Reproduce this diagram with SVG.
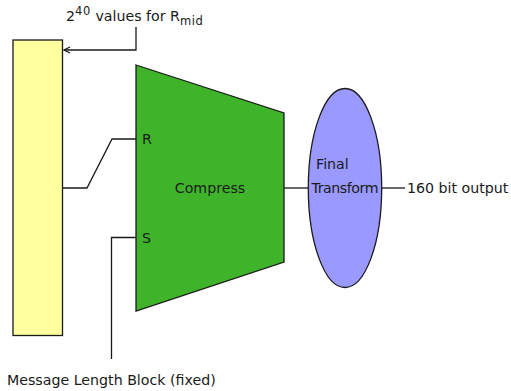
<svg xmlns="http://www.w3.org/2000/svg" width="511" height="391" viewBox="0 0 511 391">
<defs>
<style>
text{font-family:"DejaVu Sans",sans-serif;font-size:14.2px;fill:#1a1a1a}
.s{font-size:11.5px;letter-spacing:0.6px}
.ln{fill:none;stroke:#1a1a1a;stroke-width:1.3}
.shape{stroke:#1a1a1a;stroke-width:1.3}
</style>
<marker id="ah" markerWidth="8" markerHeight="8" refX="7" refY="4" orient="auto" markerUnits="userSpaceOnUse">
<path d="M1,1 L7,4 L1,7" fill="none" stroke="#1a1a1a" stroke-width="1.3"/>
</marker>
</defs>
<g id="connectors">
<path class="ln" d="M136,27 V50 H64" marker-end="url(#ah)"/>
<path class="ln" d="M62.5,188 H87 L112,139 H136"/>
<path class="ln" d="M111.5,359 V237.5 H136"/>
<path class="ln" d="M284,188 H308.5"/>
<path class="ln" d="M382,188 H405"/>
</g>
<g id="block">
<rect class="shape" x="13" y="40" width="49.5" height="295.5" fill="#ffff9f"/>
</g>
<g id="compress">
<polygon class="shape" points="136,65 284,113 284,262 136,311" fill="#3fb42a"/>
<text x="210" y="192.5" text-anchor="middle">Compress</text>
<text x="142" y="144">R</text>
<text x="142" y="243">S</text>
</g>
<g id="final">
<ellipse class="shape" cx="345" cy="188" rx="36.7" ry="99.5" fill="#9999ff"/>
<text x="316" y="169">Final</text>
<text x="311.5" y="193" textLength="67">Transform</text>
</g>
<g id="labels">
<text x="66" y="21">2<tspan class="s" dy="-6">40</tspan><tspan dy="6"> values for R</tspan><tspan class="s" dy="4">mid</tspan></text>
<text x="407" y="192.5">160 bit output</text>
<text x="7" y="385">Message Length Block (fixed)</text>
</g>
</svg>
